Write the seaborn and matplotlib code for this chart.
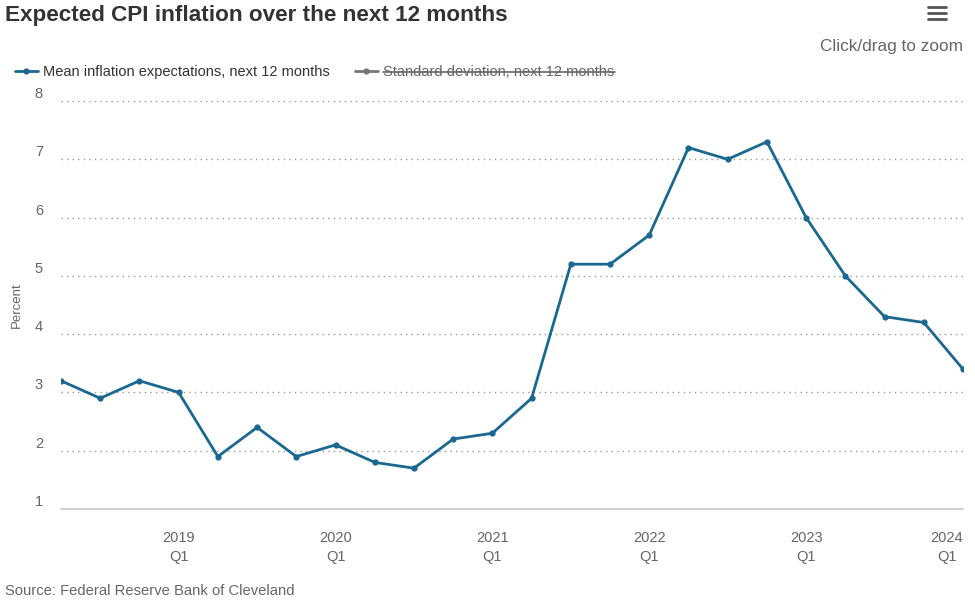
import matplotlib
matplotlib.use("Agg")
import matplotlib.pyplot as plt
import pandas as pd
import seaborn as sns
from matplotlib.lines import Line2D

# Data (quarterly survey, percent)
quarters = ["2018Q2", "2018Q3", "2018Q4",
            "2019Q1", "2019Q2", "2019Q3", "2019Q4",
            "2020Q1", "2020Q2", "2020Q3", "2020Q4",
            "2021Q1", "2021Q2", "2021Q3", "2021Q4",
            "2022Q1", "2022Q2", "2022Q3", "2022Q4",
            "2023Q1", "2023Q2", "2023Q3", "2023Q4",
            "2024Q1"]
mean_expectations = [3.2, 2.9, 3.2,
                     3.0, 1.9, 2.4, 1.9,
                     2.1, 1.8, 1.7, 2.2,
                     2.3, 2.9, 5.2, 5.2,
                     5.7, 7.2, 7.0, 7.3,
                     6.0, 5.0, 4.3, 4.2,
                     3.4]
year_ticks = [2019, 2020, 2021, 2022, 2023, 2024]
y_ticks = [1, 2, 3, 4, 5, 6, 7, 8]

series_name = "Mean inflation expectations, next 12 months"
hidden_name = "Standard deviation, next 12 months"

LINE = "#1a6891"
TEXT = "#333333"
MUTED = "#666666"

sns.set_style("white")
plt.rcParams["font.family"] = ["Liberation Sans", "DejaVu Sans"]

df = pd.DataFrame({"quarter": quarters, "value": mean_expectations})
df["t"] = df["quarter"].str[:4].astype(int) + (df["quarter"].str[-1].astype(int) - 1) / 4

fig = plt.figure(figsize=(9.75, 6.03), dpi=100)
ax = fig.add_axes([61 / 975, 1 - 509 / 603, (963 - 61) / 975, (509 - 101) / 603])

sns.lineplot(data=df, x="t", y="value", ax=ax, color=LINE, linewidth=2.0,
             marker="o", markersize=4.5, markeredgewidth=0, legend=False)

ax.set_xlim(df["t"].min(), df["t"].max())
ax.set_ylim(1, 8)
ax.set_yticks(y_ticks)
ax.set_yticklabels([str(v) for v in y_ticks])
ax.set_xticks(year_ticks)
ax.set_xticklabels([f"{y}\nQ1" for y in year_ticks], linespacing=1.42)
# last label is pulled inside the chart, like the original
last = ax.get_xticklabels()[-1]
last.set_ha("right")
last.set_multialignment("center")

ax.grid(axis="y", linestyle=(0, (1, 3)), color="#999999", linewidth=1.0)
ax.grid(axis="x", visible=False)
for side in ["top", "right", "left"]:
    ax.spines[side].set_visible(False)
ax.spines["bottom"].set_color("#c8c8c8")
ax.spines["bottom"].set_linewidth(1.2)

ax.tick_params(axis="x", direction="in", length=6, width=1, color="#c8c8c8",
               pad=16, labelsize=10.5, labelcolor=MUTED)
ax.tick_params(axis="y", length=0, pad=13, labelsize=10.5, labelcolor=MUTED)
for lab in ax.get_yticklabels():
    lab.set_va("bottom")

ax.set_xlabel("")
ax.set_ylabel("Percent", fontsize=9.5, color=MUTED)
ax.yaxis.set_label_coords((23 - 61) / 902, 0.5)

# title, zoom hint, source
fig.text(5 / 975, 1 - 15 / 603, "Expected CPI inflation over the next 12 months",
         fontsize=16.2, fontweight="bold", color=TEXT, ha="left", va="center")
fig.text(963 / 975, 1 - 46 / 603, "Click/drag to zoom", fontsize=12.4,
         color=MUTED, ha="right", va="center")
fig.text(5 / 975, 1 - 591 / 603, "Source: Federal Reserve Bank of Cleveland",
         fontsize=10.6, color=MUTED, ha="left", va="center")

# menu icon
for yy in [7, 13, 19]:
    fig.add_artist(Line2D([928 / 975, 946 / 975], [1 - yy / 603, 1 - yy / 603],
                          transform=fig.transFigure, color="#555555", lw=2.0))

# legend
handles = [Line2D([], [], color=LINE, lw=2.0, marker="o", markersize=4.5, markeredgewidth=0),
           Line2D([], [], color="#777777", lw=2.0, marker="o", markersize=4.5, markeredgewidth=0)]
leg = fig.legend(handles, [series_name, hidden_name], loc="center left",
                 bbox_to_anchor=(15 / 975, 1 - 72 / 603), ncol=2, frameon=False,
                 fontsize=10.5, handlelength=1.55, handletextpad=0.4,
                 columnspacing=1.7, borderpad=0, borderaxespad=0)
leg.get_texts()[0].set_color(TEXT)
leg.get_texts()[1].set_color(MUTED)

fig.canvas.draw()
bb = leg.get_texts()[1].get_window_extent().transformed(fig.transFigure.inverted())
ymid = bb.y0 + bb.height * 0.5
fig.add_artist(Line2D([bb.x0, bb.x1], [ymid, ymid], transform=fig.transFigure,
                      color=MUTED, lw=1.2))

fig.savefig("out.png", dpi=100)
